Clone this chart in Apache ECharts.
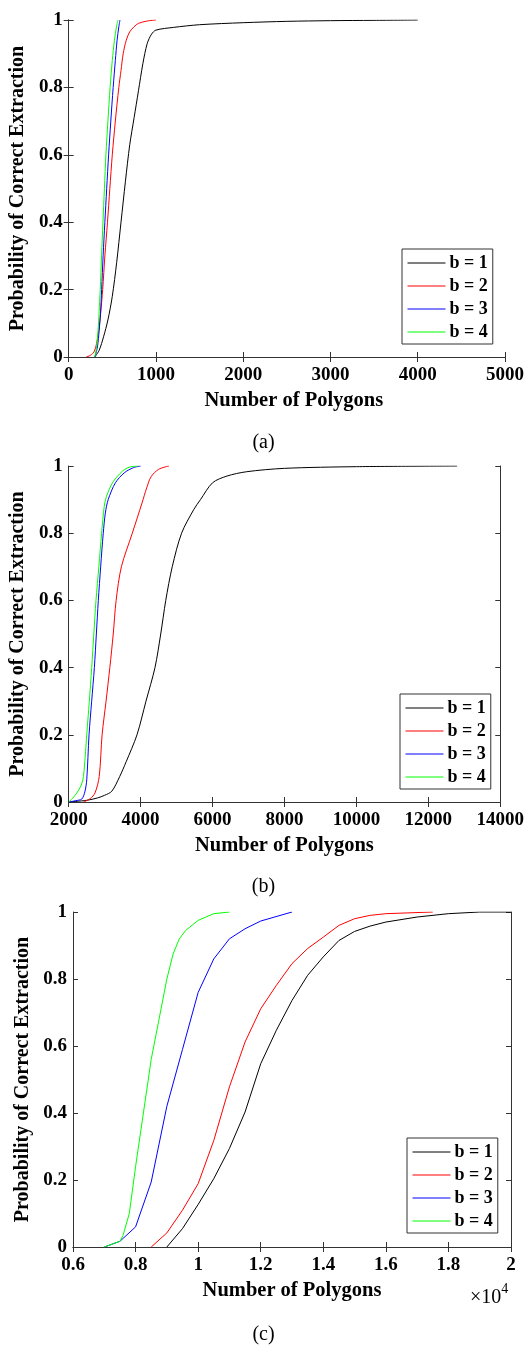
<!DOCTYPE html>
<html>
<head>
<meta charset="utf-8">
<script src="https://cdn.jsdelivr.net/npm/echarts@6/dist/echarts.min.js"></script>
<style>
html,body{margin:0;padding:0;background:#fff;}
#chart{width:527px;height:1345px;}
</style>
</head>
<body>
<div id="chart"></div>
<script>
// ---------- DATA ----------
const seriesNames = ['b = 1', 'b = 2', 'b = 3', 'b = 4'];
const seriesColors = ['#000000', '#ff0000', '#0000ff', '#00ff00'];
const yTicks = [0, 0.2, 0.4, 0.6, 0.8, 1];

// (a)
const a_xTicks = [0, 1000, 2000, 3000, 4000, 5000];
const a_b1 = [[300,0],[350,0.02],[400,0.06],[450,0.11],[500,0.18],[550,0.28],[600,0.4],[650,0.52],[700,0.63],[750,0.71],[800,0.79],[850,0.87],[900,0.93],[950,0.958],[1000,0.97],[1200,0.978],[1500,0.986],[2000,0.992],[2500,0.996],[3000,0.998],[3500,0.999],[4000,1]];
const a_b2 = [[200,0],[250,0.005],[290,0.015],[320,0.04],[350,0.09],[370,0.14],[390,0.2],[415,0.3],[445,0.4],[472,0.5],[500,0.6],[535,0.7],[575,0.8],[600,0.85],[625,0.9],[660,0.94],[700,0.965],[750,0.98],[800,0.99],[900,0.997],[1000,1]];
const a_b3 = [[300,0],[330,0.03],[350,0.08],[365,0.13],[378,0.2],[395,0.3],[415,0.4],[436,0.5],[458,0.6],[483,0.7],[510,0.8],[535,0.88],[555,0.94],[575,0.98],[588,1]];
const a_b4 = [[300,0],[320,0.03],[340,0.09],[352,0.15],[362,0.2],[377,0.3],[393,0.4],[410,0.5],[427,0.6],[450,0.7],[475,0.8],[500,0.88],[525,0.94],[548,0.98],[565,1]];

// (b)
const b_xTicks = [2000, 4000, 6000, 8000, 10000, 12000, 14000];
const b_b1 = [[2000,0],[2500,0.005],[2800,0.012],[3000,0.02],[3200,0.032],[3420,0.076],[3600,0.12],[3900,0.2],[4150,0.3],[4400,0.4],[4560,0.5],[4700,0.6],[4880,0.7],[5140,0.8],[5482,0.871],[5666,0.9],[6000,0.95],[6400,0.97],[6950,0.983],[8000,0.993],[10000,0.998],[12800,1]];
const b_b2 = [[2412,0],[2600,0.01],[2733,0.027],[2850,0.076],[2930,0.2],[3040,0.3],[3145,0.4],[3240,0.5],[3320,0.6],[3466,0.7],[3770,0.8],[4040,0.89],[4170,0.935],[4291,0.968],[4500,0.99],[4790,1]];
const b_b3 = [[2000,0],[2200,0.004],[2366,0.009],[2450,0.03],[2503,0.066],[2567,0.2],[2640,0.3],[2715,0.4],[2770,0.5],[2825,0.6],[2890,0.7],[2962,0.8],[3020,0.86],[3100,0.9],[3300,0.95],[3550,0.98],[3800,0.995],[4000,1]];
const b_b4 = [[2000,0],[2100,0.01],[2228,0.027],[2350,0.05],[2412,0.076],[2470,0.15],[2503,0.2],[2575,0.3],[2641,0.4],[2700,0.5],[2760,0.6],[2840,0.7],[2916,0.8],[2990,0.88],[3053,0.91],[3237,0.953],[3500,0.985],[3700,0.997],[3925,1]];

// (c)
const c_xTicks = [6000, 8000, 10000, 12000, 14000, 16000, 18000, 20000];
const c_b1 = [[9000,0],[9500,0.055],[10000,0.127],[10500,0.204],[11000,0.294],[11500,0.403],[12000,0.547],[12500,0.647],[13000,0.736],[13500,0.811],[14000,0.866],[14500,0.915],[15000,0.942],[15500,0.958],[16000,0.97],[17000,0.985],[18000,0.995],[19000,1],[20000,1]];
const c_b2 = [[8500,0],[9000,0.042],[9500,0.11],[10000,0.189],[10500,0.318],[11000,0.478],[11500,0.612],[12000,0.711],[12500,0.781],[13000,0.846],[13500,0.891],[14000,0.925],[14500,0.96],[15000,0.98],[15500,0.99],[16000,0.995],[17500,1]];
const c_b3 = [[7000,0],[7500,0.017],[8000,0.06],[8500,0.194],[9000,0.42],[9500,0.59],[10000,0.76],[10500,0.86],[11000,0.92],[11500,0.95],[12000,0.973],[13000,1]];
const c_b4 = [[7000,0],[7500,0.017],[7600,0.035],[7800,0.1],[8000,0.24],[8250,0.4],[8500,0.56],[8750,0.68],[9000,0.8],[9200,0.875],[9400,0.92],[9600,0.945],[10000,0.975],[10500,0.995],[11000,1]];

const captions = ['(a)', '(b)', '(c)'];
const xTitle = 'Number of Polygons';
const yTitle = 'Probability of Correct Extraction';

// ---------- CHART ----------
const FONT = "'Liberation Serif', 'Times New Roman', serif";
const AXC = '#333333';

const grids = [
  {left: 68, top: 20, width: 438, height: 337},
  {left: 67, top: 466, width: 437, height: 336},
  {left: 73, top: 912, width: 438, height: 335}
];
const xRanges = [
  {min: a_xTicks[0], max: a_xTicks[a_xTicks.length-1], interval: a_xTicks[1]-a_xTicks[0]},
  {min: b_xTicks[0], max: b_xTicks[b_xTicks.length-1], interval: b_xTicks[1]-b_xTicks[0]},
  {min: c_xTicks[0], max: c_xTicks[c_xTicks.length-1], interval: c_xTicks[1]-c_xTicks[0]}
];
const xFormatters = [
  v => String(v),
  v => String(v),
  v => String(parseFloat((v/10000).toFixed(1)))
];
const data = [[a_b1,a_b2,a_b3,a_b4],[b_b1,b_b2,b_b3,b_b4],[c_b1,c_b2,c_b3,c_b4]];
const smoothFlags = [true, true, false];
const legendPos = [{left: 402, top: 249},{left: 400, top: 694},{left: 407, top: 1138}];
const captionY = [433, 877, 1325];
const titlePad = [[0,0,0,14],[0,0,0,0],[0,0,0,0]];

const xAxes = [], yAxes = [], series = [], legends = [], graphics = [];
grids.forEach((g, i) => {
  const base = {gridIndex: i, min: xRanges[i].min, max: xRanges[i].max, interval: xRanges[i].interval, splitLine:{show:false},
    axisLine:{show:true, lineStyle:{color:AXC, width:1}}, axisTick:{show:true, inside:true, length:5, lineStyle:{color:AXC}}};
  xAxes.push(Object.assign({}, base, {type:'value', position:'bottom',
    axisLabel:{show:true, margin:9, fontFamily:FONT, fontWeight:'bold', fontSize:19, color:'#000', formatter:xFormatters[i]},
    name: xTitle, nameLocation:'middle', nameGap: 33,
    nameTextStyle:{fontFamily:FONT, fontWeight:'bold', fontSize:20.5, color:'#000', padding: titlePad[i]}}));
  xAxes.push(Object.assign({}, base, {type:'value', position:'top', axisLabel:{show:false}}));
  const ybase = {gridIndex: i, type:'value', min:yTicks[0], max:yTicks[yTicks.length-1], interval: yTicks[1]-yTicks[0], splitLine:{show:false},
    axisLine:{show:true, lineStyle:{color:AXC, width:1}}, axisTick:{show:true, inside:true, length:5, lineStyle:{color:AXC}}};
  yAxes.push(Object.assign({}, ybase, {position:'left',
    axisLabel:{show:true, margin:6, fontFamily:FONT, fontWeight:'bold', fontSize:19, color:'#000'},
    name: yTitle, nameLocation:'middle', nameGap: 30, nameTextStyle:{fontFamily:FONT, fontWeight:'bold', fontSize:20, color:'#000'}}));
  yAxes.push(Object.assign({}, ybase, {position:'right', axisLabel:{show:false}}));
  data[i].forEach((d, k) => {
    series.push({type:'line', name: seriesNames[k], xAxisIndex: 2*i, yAxisIndex: 2*i, data: d,
      symbol:'none', showSymbol:false, smooth: smoothFlags[i] ? 0.3 : false,
      lineStyle:{color: seriesColors[k], width:1}, itemStyle:{color: seriesColors[k]}, animation:false, z: 3+k});
  });
  legends.push({orient:'vertical', left: legendPos[i].left, top: legendPos[i].top, data: seriesNames,
    itemWidth: 38, itemHeight: 18, itemGap: 5, padding:[5,5,3,5],
    borderColor:'#333', borderWidth:1, backgroundColor:'#fff',
    itemStyle:{opacity:0, borderWidth:0},
    lineStyle:{width:1},
    textStyle:{fontFamily:FONT, fontWeight:'bold', fontSize:18, color:'#000', padding:[0,0,0,-1]},
    selectedMode:false});
  graphics.push({type:'text', left: 'center', top: captionY[i], style:{text: captions[i], font: '20px ' + FONT, fill:'#000'}});
});
graphics.push({type:'text', left: 470, top: 1282, style:{
  text: '{a|×10}{b|4}', rich:{a:{font:'20px ' + FONT, fill:'#000', padding:[6,0,0,0]}, b:{font:'14px ' + FONT, fill:'#000', verticalAlign:'top'}}}});

const chart = echarts.init(document.getElementById('chart'), null, {renderer:'canvas'});
chart.setOption({
  animation:false,
  backgroundColor:'#fff',
  grid: grids,
  xAxis: xAxes,
  yAxis: yAxes,
  series: series,
  legend: legends,
  graphic: graphics
});
</script>
</body>
</html>
